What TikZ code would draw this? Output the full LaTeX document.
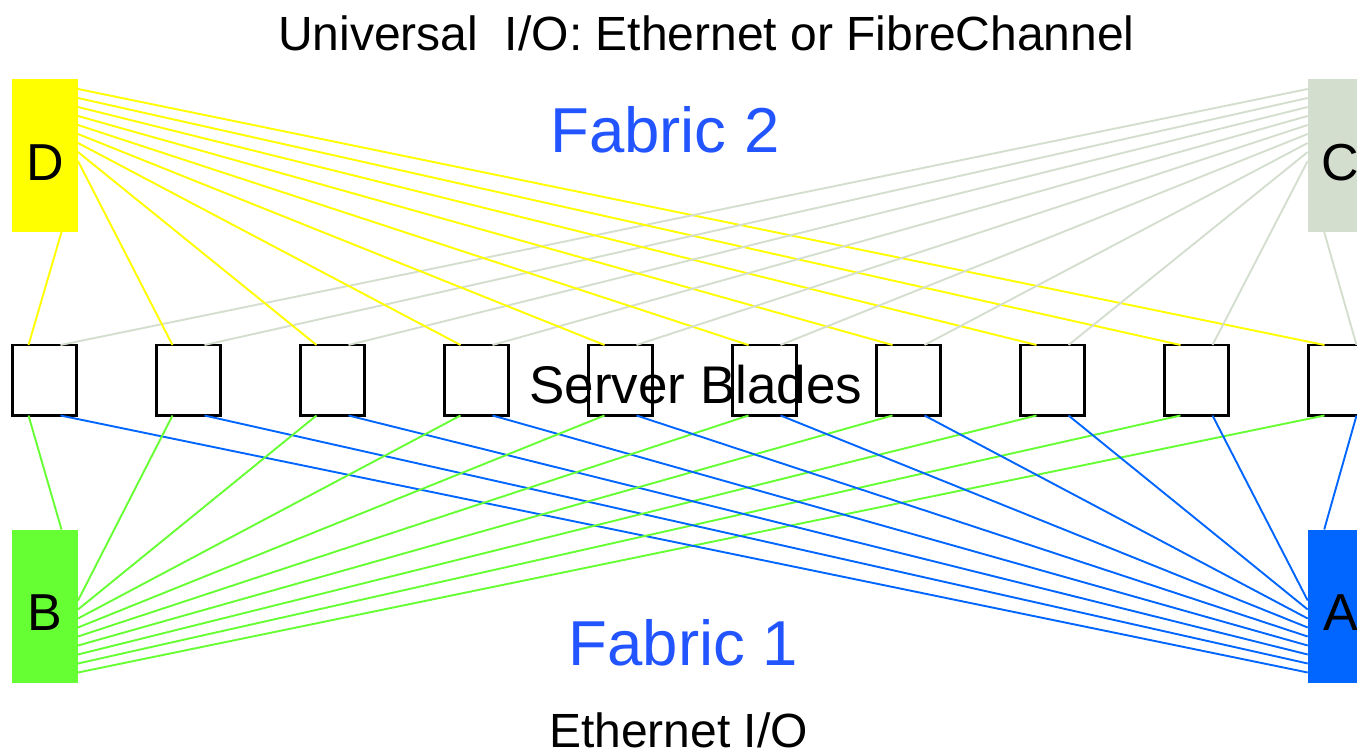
\documentclass[tikz,border=0pt]{standalone}
\usepackage{fontspec}
\setmainfont{Liberation Sans}
\usetikzlibrary{calc}
\definecolor{swD}{HTML}{FFFF00}
\definecolor{swC}{HTML}{D4DECE}
\definecolor{swB}{HTML}{66FF33}
\definecolor{swA}{HTML}{0066FF}
\definecolor{fab}{HTML}{2255FF}
\begin{document}
\begin{tikzpicture}[x=1pt,y=-1pt,
  switchbox/.style={rectangle, inner sep=0pt, outer sep=0pt, minimum width=66pt, minimum height=153pt, text height=49pt, text depth=0pt, font=\fontsize{52}{60}\selectfont},
  blade/.style={rectangle, draw=black, line width=2.2pt, fill=white, inner sep=0pt, outer sep=0pt, minimum width=64pt, minimum height=70.5pt},
  link/.style={line width=1.9pt},
  titletext/.style={font=\fontsize{48}{56}\selectfont, anchor=base, inner sep=0pt},
  fabric/.style={font=\fontsize{63.5}{70}\selectfont, text=fab, anchor=base, inner sep=0pt},
  bladelabel/.style={font=\fontsize{53}{60}\selectfont, anchor=base, inner sep=0pt}]
\useasboundingbox (0,0) rectangle (1357,755);
\clip (0,0) rectangle (1357,755);

% switches
\node[switchbox, fill=swD] (D) at (45,155.5) {D};
\node[switchbox, fill=swC] (C) at (1340.7,155.5) {C};
\node[switchbox, fill=swB] (B) at (45,606) {B};
\node[switchbox, fill=swA] (A) at (1340.7,606) {A};

% server blades
\foreach \i in {1,...,10} {
  \node[blade] (s\i) at ({44.5+144*(\i-1)},380.25) {};
  \coordinate (s\i-ty) at ($(s\i.north west)!0.25!(s\i.north east)$);
  \coordinate (s\i-tg) at ($(s\i.north west)!0.75!(s\i.north east)$);
  \coordinate (s\i-bg) at ($(s\i.south west)!0.25!(s\i.south east)$);
  \coordinate (s\i-bb) at ($(s\i.south west)!0.75!(s\i.south east)$);
}

% connection points on switches
\foreach \k in {0,...,8} {
  \coordinate (D-\k) at ($(D.north east)+(0,{10+9*\k})$);
  \coordinate (C-\k) at ($(C.north west)+(0,{10+9*\k})$);
  \coordinate (B-\k) at ($(B.south east)+(0,{-10-9*\k})$);
  \coordinate (A-\k) at ($(A.south west)+(0,{-10-9*\k})$);
}
\coordinate (D-e) at ($(D.south west)!0.75!(D.south east)$);
\coordinate (C-e) at ($(C.south west)!0.25!(C.south east)$);
\coordinate (B-e) at ($(B.north west)!0.75!(B.north east)$);
\coordinate (A-e) at ($(A.north west)!0.25!(A.north east)$);

% links
\foreach \k in {0,...,8} {
  \pgfmathtruncatemacro{\far}{10-\k}
  \pgfmathtruncatemacro{\near}{1+\k}
  \draw[link, swD] (D-\k) -- (s\far-ty);
  \draw[link, swC] (C-\k) -- (s\near-tg);
  \draw[link, swB] (B-\k) -- (s\far-bg);
  \draw[link, swA] (A-\k) -- (s\near-bb);
}
\draw[link, swD] (D-e) -- (s1-ty);
\draw[link, swC] (C-e) -- (s10-tg);
\draw[link, swB] (B-e) -- (s1-bg);
\draw[link, swA] (A-e) -- (s10-bb);

% texts
\node[titletext] (ttl) at (706.5,50) {Universal\ \ I/O: Ethernet or FibreChannel};
\node[fabric] (f2) at (665,152) {Fabric 2};
\node[bladelabel] (sbl) at (695.8,403) {Server Blades};
\node[fabric] (f1) at (683.5,665) {Fabric 1};
\node[titletext] (eth) at (678.5,747) {Ethernet I/O};
\end{tikzpicture}
\end{document}
